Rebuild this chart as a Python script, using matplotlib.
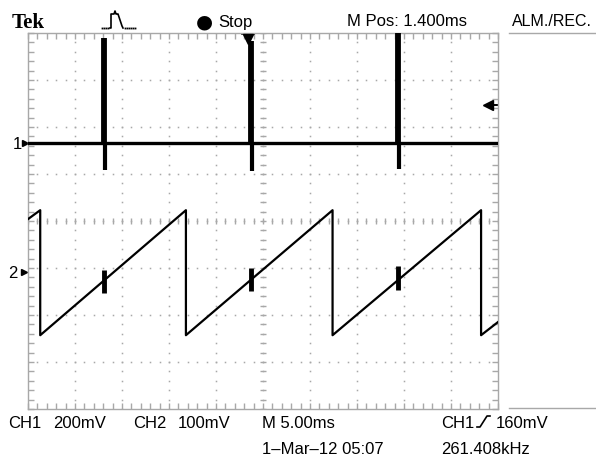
import numpy as np
import matplotlib.pyplot as plt

W, H = 596, 459
plt.rcParams['font.family'] = ['Liberation Sans', 'DejaVu Sans']

# scope settings
ch1_mv_div = 200
ch2_mv_div = 100
ms_div = 5.0
ch1_pos = 1.66      # ground marker, divisions from centre
ch2_pos = -1.08
ch1_trig_mv = 160
trig_t_ms = 23.4

# CH1: flat line with narrow spikes
ch1_spike_t = [8.1, 23.7, 39.4]
ch1_spike_top = [445, 435, 470]
ch1_spike_bot = [-115, -120, -110]

# CH2: sawtooth corners (ms, mV)
ch2_t = [0.0, 1.3, 1.3, 16.8, 16.8, 32.4, 32.4, 48.2, 48.2, 50.0]
ch2_mv = [112, 131, -135, 131, -135, 131, -135, 131, -135, -107]
ch2_glitch_t = [8.1, 23.7, 39.4]
ch2_glitch_hi = [4, 8, 12]
ch2_glitch_lo = [-45, -40, -38]

GRAY = '#a8a8a8'
FS = 12


def px(x, y):
    return x / W, 1 - y / H


fig = plt.figure(figsize=(W / 100, H / 100), dpi=100)
fig.patch.set_facecolor('white')

ax = fig.add_axes([28 / W, 1 - 409 / H, 470 / W, 376 / H])
ax.set_xlim(0, 10 * ms_div)
ax.set_ylim(-4, 4)
ax.set_xticks(np.arange(0, 50.1, ms_div))
ax.set_xticks(np.arange(0, 50.1, ms_div / 5), minor=True)
ax.set_yticks(np.arange(-4, 4.1, 1))
ax.set_yticks(np.arange(-4, 4.01, 0.2), minor=True)
ax.tick_params(which='both', direction='in', length=4, color=GRAY, width=1,
               top=True, right=True, labelbottom=False, labelleft=False)
for s in ax.spines.values():
    s.set_color(GRAY)
    s.set_linewidth(1)

# dotted graticule
dots_y = np.arange(-4, 4.01, 0.2)
dots_x = np.arange(0, 50.1, 1.0)
for xv in np.arange(5, 50, 5):
    ax.plot(np.full_like(dots_y, xv), dots_y, ls='none', marker='s', ms=1.1, color=GRAY, mew=0)
for yv in range(-3, 4):
    ax.plot(dots_x, np.full_like(dots_x, yv), ls='none', marker='s', ms=1.1, color=GRAY, mew=0)
# centre axes with small ticks
ax.plot(dots_x, np.zeros_like(dots_x), ls='none', marker='|', ms=4, color=GRAY, mew=1)
ax.plot(np.full_like(dots_y, 25), dots_y, ls='none', marker='_', ms=4, color=GRAY, mew=1)

# CH1 trace
ax.plot([0, 50], [ch1_pos, ch1_pos], color='black', lw=2.4, zorder=3)
for t, top, bot in zip(ch1_spike_t, ch1_spike_top, ch1_spike_bot):
    ax.plot([t, t], [ch1_pos + top / ch1_mv_div, ch1_pos], color='black', lw=4.2,
            solid_capstyle='butt', zorder=3)
    ax.plot([t + 0.1, t + 0.1], [ch1_pos, ch1_pos + bot / ch1_mv_div], color='black', lw=3.0,
            solid_capstyle='butt', zorder=3)

# CH2 trace
ax.plot(ch2_t, ch2_pos + np.array(ch2_mv) / ch2_mv_div, color='black', lw=1.6, zorder=3)
for t, hi, lo in zip(ch2_glitch_t, ch2_glitch_hi, ch2_glitch_lo):
    ax.plot([t, t], [ch2_pos + lo / ch2_mv_div, ch2_pos + hi / ch2_mv_div], color='black',
            lw=3.5, solid_capstyle='butt', zorder=3)

# channel ground markers
ax.plot([-0.35], [ch1_pos], marker='>', ms=4, color='black', clip_on=False)
ax.plot([-0.45], [ch2_pos], marker='>', ms=4, color='black', clip_on=False)
fig.text(*px(13, 149), '1', fontsize=FS, va='baseline')
fig.text(*px(8, 278), '2', fontsize=FS, va='baseline')

# trigger level and trigger position markers
trig_y = ch1_pos + ch1_trig_mv / ch1_mv_div
ax.plot([48.9, 49.9], [trig_y, trig_y], color='black', lw=1.4, clip_on=False)
ax.plot([48.9], [trig_y], marker='<', ms=7, color='black', clip_on=False)
ax.plot([trig_t_ms], [3.88], marker='v', ms=7, color='black', clip_on=False, zorder=4)
ax.plot([trig_t_ms - 0.6, trig_t_ms + 0.6], [3.98, 3.98], color='black', lw=1.2, clip_on=False)

# overlay for screen decorations
ov = fig.add_axes([0, 0, 1, 1])
ov.set_xlim(0, W)
ov.set_ylim(H, 0)
ov.axis('off')
ov.patch.set_alpha(0)
ov.plot([102, 104, 106, 108], [28, 28, 28, 28], ls='none', marker='s', ms=1.3, color='black', mew=0)
ov.plot([110, 111, 111, 114, 115, 116, 117, 118, 122, 123],
        [28, 28, 14, 14, 11, 14, 14, 14, 26, 28], color='black', lw=1.2)
ov.plot([125, 127, 129, 131, 133, 135], [28] * 6, ls='none', marker='s', ms=1.3, color='black', mew=0)
ov.plot([509, 596], [33, 33], color=GRAY, lw=1)
ov.plot([509, 596], [408, 408], color=GRAY, lw=1)
ov.plot([477, 480, 487, 490], [427, 427, 416, 416], color='black', lw=1.2)

# header
fig.text(*px(12, 28), 'Tek', fontsize=15, fontweight='bold', family='Liberation Serif', va='baseline')
fig.text(*px(196, 27), '\u25cf', fontsize=14, family='DejaVu Sans', va='baseline')
fig.text(*px(218, 27), 'Stop', fontsize=FS, va='baseline')
fig.text(*px(347, 26), 'M Pos: 1.400ms', fontsize=FS, va='baseline')
fig.text(*px(512, 26), 'ALM./REC.', fontsize=11.5, va='baseline')

# footer
fig.text(*px(8, 428), 'CH1', fontsize=FS, va='baseline')
fig.text(*px(53, 428), '200mV', fontsize=FS, va='baseline')
fig.text(*px(133, 428), 'CH2', fontsize=FS, va='baseline')
fig.text(*px(178, 428), '100mV', fontsize=FS, va='baseline')
fig.text(*px(262, 428), 'M 5.00ms', fontsize=FS, va='baseline')
fig.text(*px(441, 428), 'CH1', fontsize=FS, va='baseline')
fig.text(*px(496, 428), '160mV', fontsize=FS, va='baseline')
fig.text(*px(262, 454), '1\u2013Mar\u201312 05:07', fontsize=FS, va='baseline')
fig.text(*px(441, 454), '261.408kHz', fontsize=FS, va='baseline')

fig.savefig('out.png', dpi=100, facecolor='white')
